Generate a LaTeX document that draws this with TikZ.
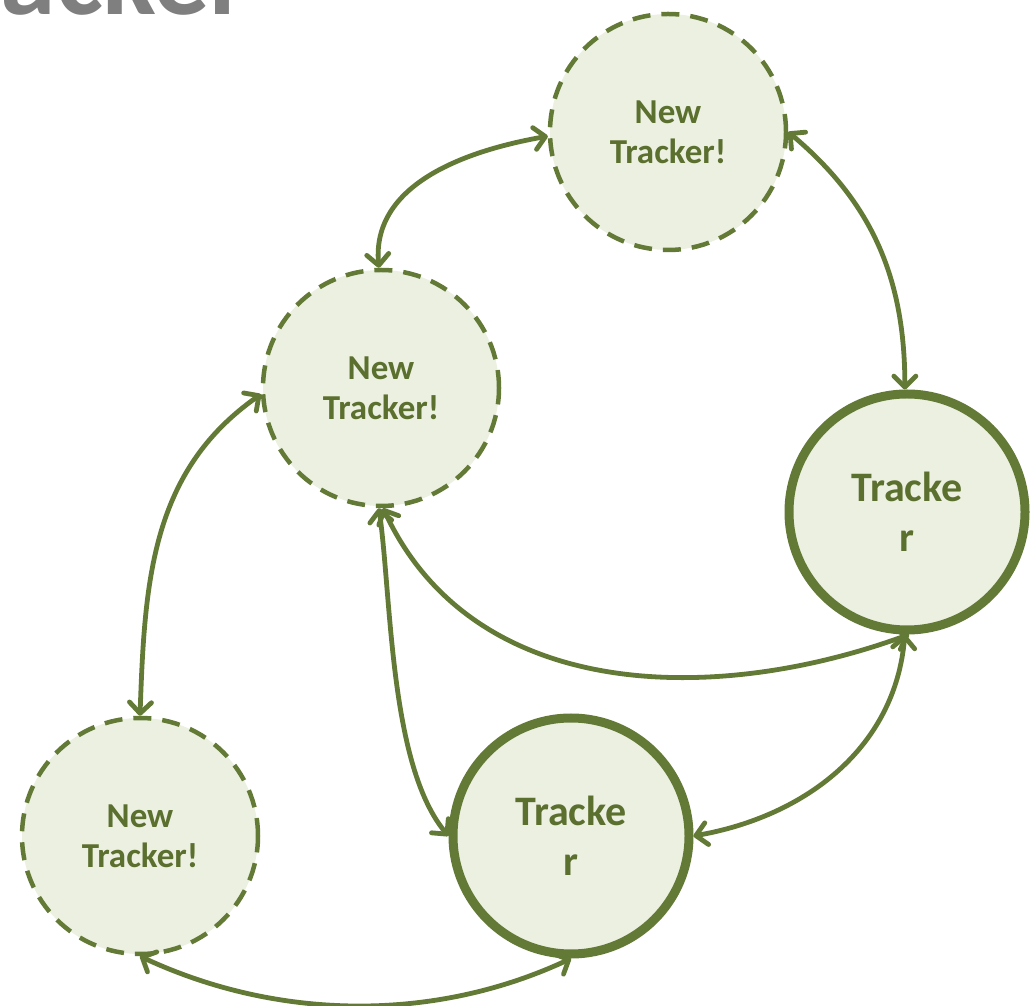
\documentclass[tikz,border=0pt]{standalone}
\usepackage{fontspec}
\setmainfont{Carlito}
\usetikzlibrary{arrows.meta}
\definecolor{ol}{HTML}{637936}
\definecolor{olfill}{HTML}{EBF0E1}
\definecolor{oltext}{HTML}{5B6F2E}
\definecolor{ttl}{HTML}{7F7F7F}
\tikzset{
  newtr/.style={circle, draw=ol, fill=olfill, line width=4.5pt, dash pattern=on 18pt off 11pt, minimum size=236pt, inner sep=0pt, align=center, text=oltext, font=\fontsize{35}{40}\selectfont\bfseries},
  trk/.style={circle, draw=ol, fill=olfill, line width=9pt, minimum size=236pt, inner sep=0pt, align=center, text=oltext, font=\fontsize{42}{50}\selectfont\bfseries},
  link/.style={draw=ol, line width=4.8pt, {Straight Barb[round,length=11pt,width=22pt]}-{Straight Barb[round,length=11pt,width=22pt]}}
}
\begin{document}
\begin{tikzpicture}[x=1pt,y=1pt]
\useasboundingbox (0,0) rectangle (1034,1005);
\begin{scope}
\clip (0,0) rectangle (1034,1005);
\node[anchor=base east, inner sep=0pt, text=ttl, font=\fontsize{112}{120}\selectfont\bfseries] (title) at (250,990) {Tracker};
\end{scope}
\node[newtr] (n1) at (668,873) {New\\Tracker!};
\node[newtr] (n2) at (381,617) {New\\Tracker!};
\node[newtr] (n3) at (140,169) {New\\Tracker!};
\node[trk] (t1) at (907,493) {Tracke\\r};
\node[trk] (t2) at (571,169) {Tracke\\r};
\draw[link] (n1.182) to[out=190, in=95] (n2.91);
\draw[link] (n1.0) to[out=-40, in=90] (t1.91);
\draw[link] (n2.183) to[out=215, in=88] (n3.90);
\draw[link] (n2.269) to[out=-82, in=130, looseness=0.7] (t2.180);
\draw[link] (n2.271) to[out=-65, in=-160] (t1.271);
\draw[link] (t1.269) to[out=-95, in=10] (t2.0);
\draw[link] (n3.270) to[out=-25, in=-155, looseness=0.9] (t2.270);
\end{tikzpicture}
\end{document}
